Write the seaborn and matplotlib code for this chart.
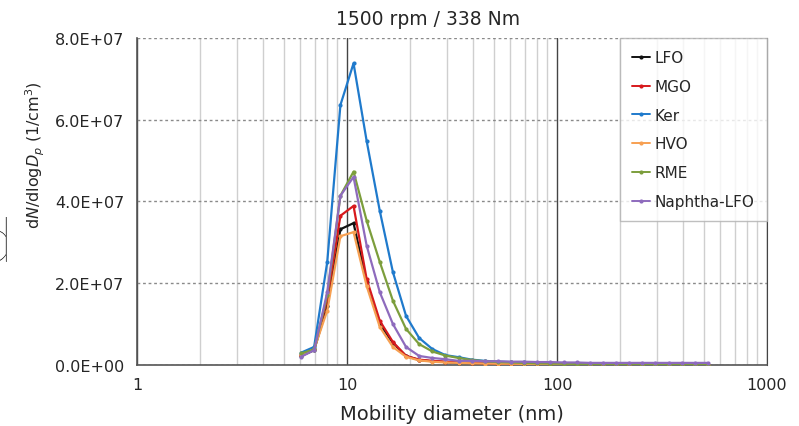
import matplotlib
matplotlib.use("Agg")
import matplotlib.pyplot as plt
import matplotlib.ticker as mticker
import seaborn as sns
import pandas as pd
import numpy as np

# mobility diameter bins (nm)
diameter = [6.04, 6.97, 8.05, 9.30, 10.74, 12.40, 14.32, 16.54, 19.10, 22.05,
            25.47, 29.41, 33.96, 39.22, 45.29, 52.30, 60.39, 69.74, 80.54, 93.00,
            107.4, 124.0, 143.2, 165.4, 191.0, 220.5, 254.7, 294.1, 339.6, 392.2,
            452.9, 523.0]

# dN/dlogDp in units of 1e7 /cm3
lfo = [0.22, 0.36, 1.44, 3.32, 3.47, 2.03, 1.00, 0.54, 0.22, 0.12, 0.09, 0.07, 0.05,
       0.045, 0.04, 0.035, 0.03, 0.03, 0.025, 0.02, 0.02, 0.015, 0.015, 0.01, 0.01,
       0.01, 0.01, 0.01, 0.01, 0.01, 0.01, 0.01]
mgo = [0.25, 0.38, 1.61, 3.65, 3.89, 2.10, 1.08, 0.56, 0.22, 0.13, 0.10, 0.08, 0.06,
       0.05, 0.04, 0.035, 0.03, 0.03, 0.025, 0.02, 0.02, 0.015, 0.015, 0.01, 0.01,
       0.01, 0.01, 0.01, 0.01, 0.01, 0.01, 0.01]
ker = [0.30, 0.44, 2.52, 6.36, 7.38, 5.48, 3.77, 2.27, 1.20, 0.66, 0.39, 0.24, 0.19,
       0.13, 0.10, 0.08, 0.07, 0.06, 0.05, 0.04, 0.035, 0.03, 0.025, 0.02, 0.02,
       0.015, 0.015, 0.01, 0.01, 0.01, 0.01, 0.01]
hvo = [0.25, 0.38, 1.33, 3.15, 3.25, 1.93, 0.93, 0.44, 0.20, 0.11, 0.08, 0.06, 0.05,
       0.04, 0.035, 0.03, 0.03, 0.025, 0.02, 0.02, 0.015, 0.015, 0.01, 0.01, 0.01,
       0.01, 0.01, 0.01, 0.01, 0.01, 0.01, 0.01]
rme = [0.28, 0.38, 1.70, 4.14, 4.73, 3.53, 2.52, 1.57, 0.88, 0.51, 0.33, 0.23, 0.17,
       0.12, 0.09, 0.07, 0.06, 0.05, 0.04, 0.035, 0.03, 0.025, 0.02, 0.02, 0.015,
       0.015, 0.01, 0.01, 0.01, 0.01, 0.01, 0.01]
naphtha = [0.20, 0.36, 1.78, 4.14, 4.60, 2.92, 1.78, 1.00, 0.44, 0.22, 0.17, 0.14,
           0.10, 0.10, 0.09, 0.09, 0.08, 0.08, 0.07, 0.07, 0.06, 0.06, 0.05, 0.05,
           0.05, 0.05, 0.05, 0.05, 0.05, 0.05, 0.05, 0.05]

series_names = ["LFO", "MGO", "Ker", "HVO", "RME", "Naphtha-LFO"]
series_vals = [lfo, mgo, ker, hvo, rme, naphtha]
colors = ["#111111", "#d7191c", "#1f7acc", "#f7a052", "#7c9e3c", "#8e6bbd"]

df = pd.concat([pd.DataFrame({"d": diameter, "n": np.array(v) * 1e7, "fuel": name})
                for name, v in zip(series_names, series_vals)], ignore_index=True)

sns.set_style("white")
plt.rcParams["font.family"] = ["DejaVu Sans"]

fig = plt.figure(figsize=(7.99, 4.27), dpi=100)
ax = fig.add_axes([0.1715, 0.143, 0.7885, 0.7657])

sns.lineplot(data=df, x="d", y="n", hue="fuel", hue_order=series_names,
             palette=colors, marker="o", markersize=3, markeredgewidth=0,
             linewidth=1.6, ax=ax, zorder=3)

ax.set_xscale("log")
ax.set_xlim(1, 1000)
ax.set_ylim(0, 8e7)

ax.xaxis.set_major_locator(mticker.FixedLocator([1, 10, 100, 1000]))
ax.xaxis.set_major_formatter(mticker.FuncFormatter(lambda v, p: f"{v:g}"))
ax.xaxis.set_minor_locator(mticker.LogLocator(base=10, subs=np.arange(2, 10)))
ax.xaxis.set_minor_formatter(mticker.NullFormatter())
ax.yaxis.set_major_locator(mticker.MultipleLocator(2e7))
ax.yaxis.set_major_formatter(mticker.FuncFormatter(lambda v, p: f"{v:.1E}"))

ax.grid(which="minor", axis="x", color="#cfcfcf", linewidth=1.0)
ax.grid(which="major", axis="x", color="#444444", linewidth=1.0)
ax.grid(which="major", axis="y", color="#8a8a8a", linewidth=1.0, linestyle=(0, (2, 2)))
ax.set_axisbelow(True)

for s in ["left", "bottom"]:
    ax.spines[s].set_color("#555555")
    ax.spines[s].set_linewidth(1.2)
ax.spines["right"].set_color("#444444")
ax.spines["top"].set_visible(False)

ax.tick_params(axis="both", which="major", direction="out", length=5, width=1,
               color="#555555", labelsize=11.5, pad=4)
ax.tick_params(axis="x", which="minor", length=0)

ax.set_xlabel("Mobility diameter (nm)", fontsize=14, labelpad=8)
ax.set_ylabel(r"d$N$/dlog$D_p$ (1/cm$^3$)", fontsize=11.5)
ax.yaxis.set_label_coords(-0.143, 0.645)
ax.set_title("1500 rpm / 338 Nm", fontsize=13.5, pad=10, x=0.462)

leg = ax.legend(loc="upper right", bbox_to_anchor=(1.0, 1.0), borderaxespad=0,
                frameon=True, fancybox=False, fontsize=11, labelspacing=0.9,
                handlelength=1.2, handletextpad=0.3, borderpad=0.8)
leg.get_frame().set_edgecolor("#b0b0b0")
leg.get_frame().set_linewidth(1.0)
for h in leg.legend_handles:
    h.set_linewidth(1.4)

# cropped glyph fragment at the left edge of the source image
fig.text(0.014, 1 - 262 / 427, "d", ha="right", va="baseline", fontsize=44,
         color="black", family=["Lato", "DejaVu Sans"], fontweight="light")

fig.savefig("out.png", dpi=100)
